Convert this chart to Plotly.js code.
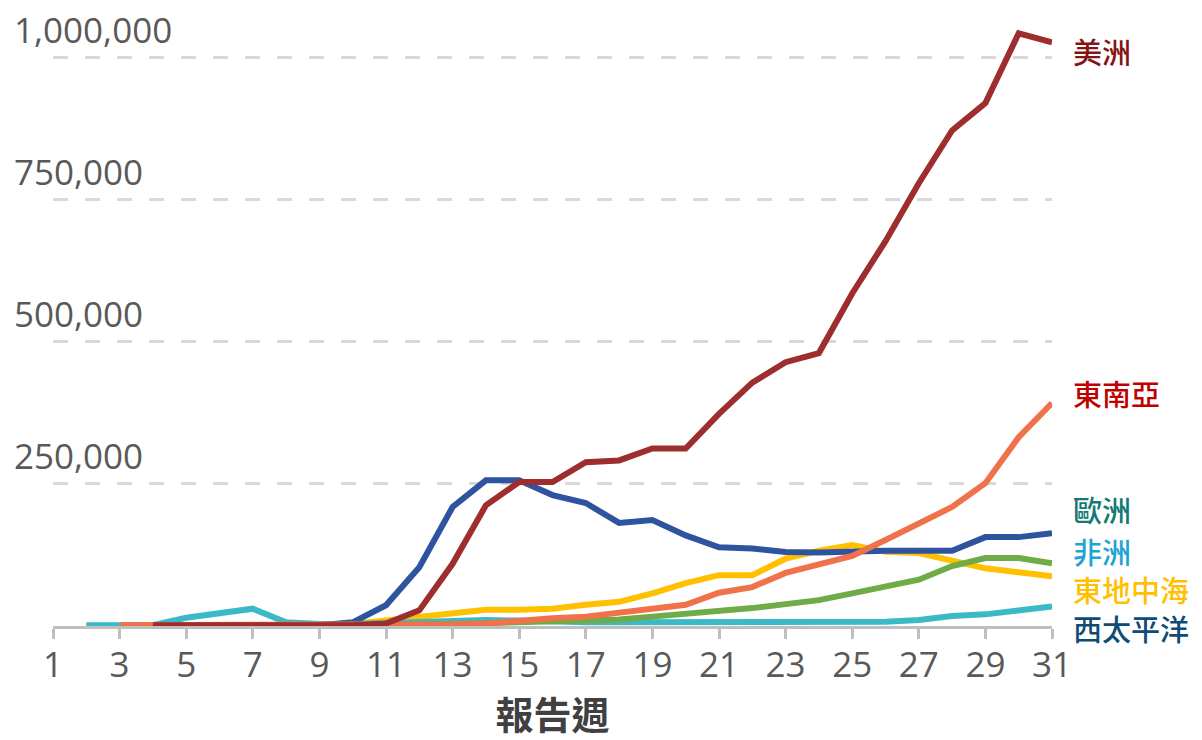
<!DOCTYPE html>
<html>
<head>
<meta charset="utf-8">
<script src="https://cdn.plot.ly/plotly-3.0.1.min.js"></script>
<style>html,body{margin:0;padding:0;background:#fff;}#chart{width:1202px;height:740px;}</style>
</head>
<body>
<div id="chart"></div>
<script>
// ---- data ----
const weeks = [1,2,3,4,5,6,7,8,9,10,11,12,13,14,15,16,17,18,19,20,21,22,23,24,25,26,27,28,29,30,31];
const americas = [null,null,null,0,0,0,0,0,0,0,3000,26000,108000,211000,252000,252000,287000,290000,311000,311000,372000,427000,463000,479000,584000,676000,778000,871000,919000,1042000,1026000];
const southEastAsia = [null,null,0,0,0,0,0,0,0,0,200,600,1500,3000,8000,12000,15000,22000,31000,36000,57000,67000,92000,108000,122000,150000,180000,208000,250000,331000,391000];
const europe = [null,null,null,0,0,0,0,0,0,5000,35000,102000,208000,255000,255000,229000,215000,180000,185000,158000,137000,135000,129000,128000,130000,131000,131000,131000,155000,155000,162000];
const africa = [null,null,null,null,null,null,null,0,0,200,500,1000,2000,3500,4500,5500,7000,10000,15000,20000,23000,30000,37000,44000,56000,67000,80000,104000,118000,118000,109000];
const eastMed = [null,null,null,null,null,null,null,0,500,2000,8000,14000,21000,27000,27000,29000,36000,41000,56000,74000,88000,88000,117000,131000,141000,129000,127000,114000,100000,93000,86000];
const westPacific = [null,0,0,0,13000,21000,29000,5000,2000,2000,4000,5000,7000,9000,8000,6000,5000,5000,5000,5000,5000,5000,6000,5000,5000,6000,9000,16000,19000,25000,33000];

const yTickVals = [250000, 500000, 750000, 1000000];
const yTickText = ['250,000', '500,000', '750,000', '1,000,000'];
const regionNames = ['美洲', '東南亞', '歐洲', '非洲', '東地中海', '西太平洋'];
const xTitle = '報告週';

// ---- styles ----
const lineColors = {
  americas: '#9e2d2d', sea: '#f0724a', europe: '#2e54a0',
  africa: '#6fab46', emr: '#ffc000', wp: '#3cb9c6'
};
const labelColors = ['#861414', '#c00000', '#137a73', '#1ea3d6', '#ffc000', '#0f4c75'];
const labelPx = [51, 393, 509, 551, 589, 628];   // label centre, pixels from top

function tr(y, color) {
  return {x: weeks, y: y, type: 'scatter', mode: 'lines', connectgaps: false,
          line: {color: color, width: 6, shape: 'linear'}, hoverinfo: 'skip'};
}
const data = [
  tr(eastMed, lineColors.emr),
  tr(westPacific, lineColors.wp),
  tr(europe, lineColors.europe),
  tr(africa, lineColors.africa),
  tr(southEastAsia, lineColors.sea),
  tr(americas, lineColors.americas)
];

const W = 1202, H = 740;
const mL = 53, mR = 150, mT = 0, mB = 114;
const plotW = W - mL - mR, plotH = H - mT - mB;
const annotations = [];
yTickVals.forEach((v, i) => {
  annotations.push({
    xref: 'paper', yref: 'y', x: (12 - mL) / plotW, y: v,
    xanchor: 'left', yanchor: 'middle', yshift: 28, showarrow: false,
    text: yTickText[i],
    font: {family: 'Open Sans, Noto Sans, sans-serif', size: 35, color: '#595959'}
  });
});
regionNames.forEach((n, i) => {
  annotations.push({
    xref: 'paper', yref: 'paper', x: (1071 - mL) / plotW, y: 1 - (labelPx[i] - mT) / plotH,
    xanchor: 'left', yanchor: 'middle', showarrow: false,
    text: n,
    font: {family: 'Noto Sans CJK TC, Noto Sans CJK SC, sans-serif', size: 29, color: labelColors[i], weight: 500}
  });
});

const layout = {
  width: W, height: H,
  margin: {l: mL, r: mR, t: mT, b: mB, pad: 0},
  paper_bgcolor: '#ffffff', plot_bgcolor: '#ffffff',
  showlegend: false,
  xaxis: {
    range: [1, 31], tick0: 1, dtick: 2, tickmode: 'linear',
    ticks: 'outside', ticklen: 10, tickwidth: 3, tickcolor: '#bfbfbf',
    showline: true, linecolor: '#bfbfbf', linewidth: 3,
    showgrid: false, zeroline: false, layer: 'below traces',
    tickfont: {family: 'Open Sans, Noto Sans, sans-serif', size: 35, color: '#595959'},
    ticklabelstandoff: -4,
    title: {text: xTitle, standoff: 22,
            font: {family: 'Noto Sans CJK TC, sans-serif', size: 38, color: '#404040', weight: 'bold'}},
    automargin: false, fixedrange: true
  },
  yaxis: {
    range: [-1500, 1100600], tickmode: 'array', tickvals: yTickVals,
    showticklabels: false, ticks: '',
    showgrid: true, gridcolor: '#d9d9d9', gridwidth: 3, griddash: '15px,17px',
    zeroline: false, showline: false, automargin: false, fixedrange: true
  },
  annotations: annotations
};

Plotly.newPlot('chart', data, layout, {displayModeBar: false, staticPlot: true});
</script>
</body>
</html>
